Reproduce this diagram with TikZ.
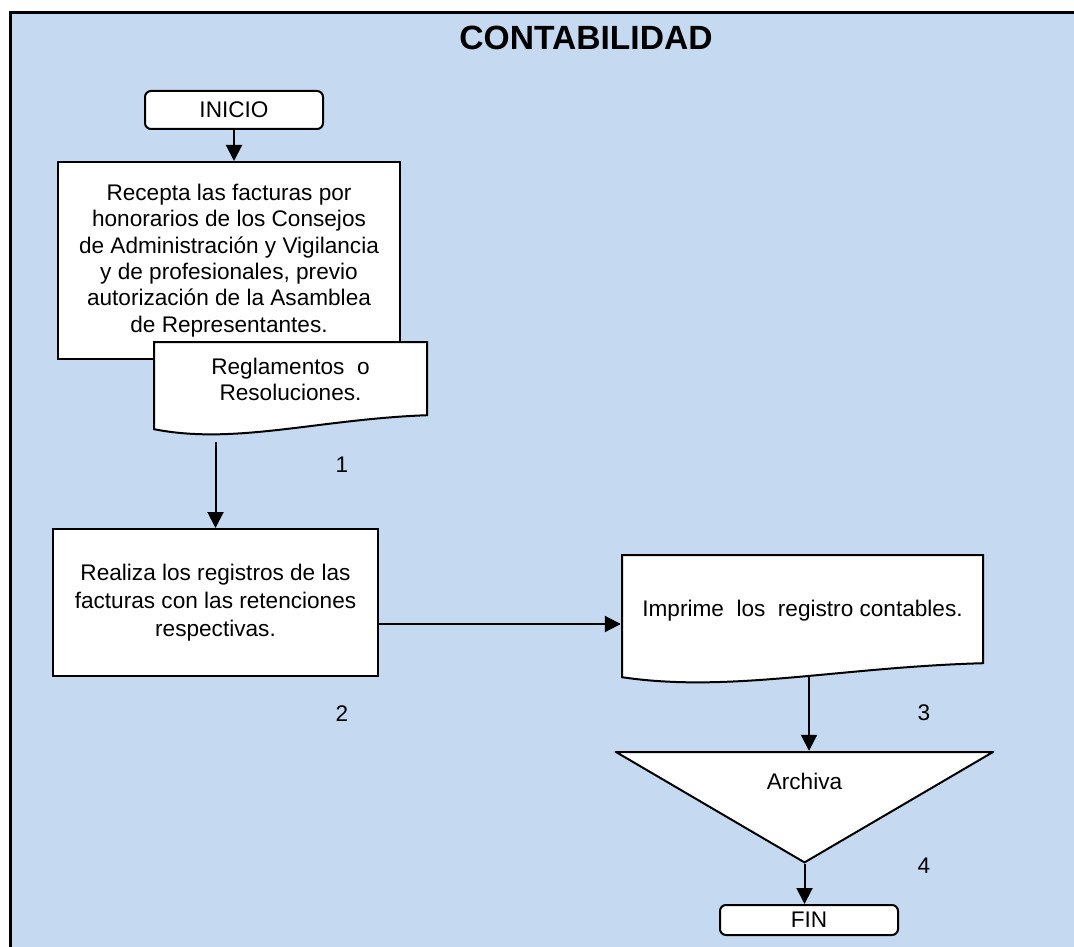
\documentclass[tikz,border=0pt]{standalone}
\usepackage{fontspec}
\setmainfont{Liberation Sans}
\usetikzlibrary{arrows.meta,calc}
\definecolor{bgblue}{RGB}{197,217,241}
\newcommand{\bodyfont}{\fontsize{11.3}{13.2}\selectfont}

\begin{document}
\begin{tikzpicture}[x=0.5pt, y=-0.5pt,
  frame/.style={draw=black, line width=1.5pt, fill=bgblue},
  term/.style={draw, fill=white, rounded corners=3pt, line width=1pt, minimum width=89pt, inner sep=0pt, font=\bodyfont},
  proc/.style={draw, fill=white, line width=1pt, inner sep=0pt, align=center, font=\bodyfont},
  docbox/.style={rectangle, inner sep=0pt, outer sep=0pt, align=center, font=\bodyfont,
    path picture={
      \draw[fill=white, line width=1pt]
        ([shift={(0.6pt,-0.6pt)}]path picture bounding box.north west)
        -- ([shift={(-0.6pt,-0.6pt)}]path picture bounding box.north east)
        -- ([shift={(-0.6pt,10.5pt)}]path picture bounding box.south east)
        .. controls ($(path picture bounding box.south west)!0.6!(path picture bounding box.south east)+(0,8.5pt)$)
               and ($(path picture bounding box.south west)!0.3!(path picture bounding box.south east)+(0,-4.5pt)$)
        .. ([shift={(0.6pt,3.5pt)}]path picture bounding box.south west) -- cycle;
    }},
  mergebox/.style={rectangle, inner sep=0pt, outer sep=0pt, font=\bodyfont,
    path picture={
      \draw[fill=white, line width=1pt]
        ([shift={(0.6pt,-0.6pt)}]path picture bounding box.north west)
        -- ([shift={(-0.6pt,-0.6pt)}]path picture bounding box.north east)
        -- ([yshift=0.9pt]path picture bounding box.south) -- cycle;
    }},
  num/.style={font=\bodyfont},
  arr/.style={-{Triangle[length=8pt,width=8pt]}, line width=1pt},
]
\useasboundingbox (0,0) rectangle (1074,946);
\clip (0,0) rectangle (1074,946);
\draw[frame] (10,13) rectangle (1100,980);

\node[font=\bfseries\fontsize{16.8}{20}\selectfont] (title) at (586,38) {CONTABILIDAD};

% inicio
\node[term, minimum height=19pt] (inicio) at (234,110) {INICIO};
\node[proc, minimum width=171pt, minimum height=98.5pt] (box1) at (229,260.5)
  {Recepta las facturas por\\honorarios de los Consejos\\de Administración y Vigilancia\\y de profesionales, previo\\autorización de la Asamblea\\de Representantes.};
\node[docbox, font=\fontsize{11.3}{12.6}\selectfont, minimum width=137.7pt, minimum height=47.7pt, text depth=9.1pt] (doc1) at (290.5,388.5)
  {Reglamentos\ \ o\\Resoluciones.};
\node[num] (n1) at (342,465) {1};

% registros
\node[proc, font=\fontsize{11.3}{14}\selectfont, minimum width=162.5pt, minimum height=73.5pt] (box2) at (215.5,602.5)
  {Realiza los registros de las\\facturas con las retenciones\\respectivas.};
\node[num] (n2) at (342,714) {2};

\node[docbox, minimum width=181.7pt, minimum height=65.2pt, text depth=11pt] (doc2) at (802.5,619)
  {Imprime\ \ los\ \ registro contables.};
\node[num] (n3) at (924,713) {3};

% archivo y fin
\node[mergebox, minimum width=189.7pt, minimum height=56.7pt, text depth=26.5pt] (arch) at (804.5,807.5) {Archiva};
\node[num] (n4) at (924,866) {4};
\node[term, minimum height=15pt] (fin) at (809,920) {FIN};

\coordinate (in2) at ([yshift=-2.5pt]doc2.west);

\draw[arr] (inicio.south) -- (inicio.south |- box1.north);
\draw[arr, shorten <=2.9pt] (doc1.south -| box2.north) -- (box2.north);
\draw[arr] (box2.east |- in2) -- (in2);
\draw[arr, shorten <=-4pt] (doc2.south -| fin.north) -- (arch.north -| fin.north);
\draw[arr] (arch.south) -- (arch.south |- fin.north);
\end{tikzpicture}
\end{document}
